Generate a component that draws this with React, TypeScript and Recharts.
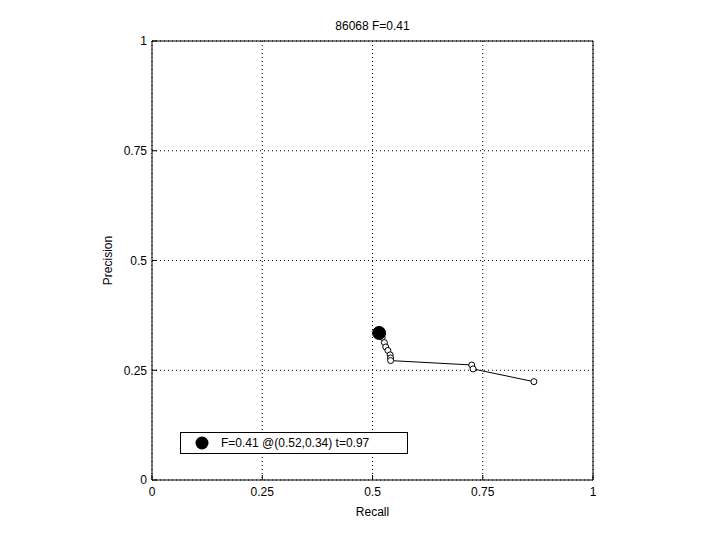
import React from 'react';
import {
  ScatterChart,
  Scatter,
  XAxis,
  YAxis,
  CartesianGrid,
  ReferenceLine,
} from 'recharts';

const recall = [0.515, 0.522, 0.527, 0.530, 0.535, 0.540, 0.541, 0.541, 0.725, 0.728, 0.866];
const precision = [0.335, 0.325, 0.313, 0.303, 0.295, 0.285, 0.278, 0.272, 0.262, 0.253, 0.224];
const bestRecall = [0.515];
const bestPrecision = [0.335];
const ticks = [0, 0.25, 0.5, 0.75, 1];
const tickLabels = ['0', '0.25', '0.5', '0.75', '1'];
const title = '86068 F=0.41';
const legendText = 'F=0.41 @(0.52,0.34) t=0.97';

const curve = recall.map((r, i) => ({ r, p: precision[i] }));
const best = bestRecall.map((r, i) => ({ r, p: bestPrecision[i] }));

const FONT = '"Liberation Sans", Arial, sans-serif';

const OpenDot = (props: any) => {
  const { cx, cy } = props;
  return <circle cx={cx} cy={cy} r={3} fill="white" stroke="black" strokeWidth={1} />;
};

const BigDot = (props: any) => {
  const { cx, cy } = props;
  return <circle cx={cx} cy={cy} r={6.5} fill="black" stroke="black" />;
};

const fmt = (v: number) => tickLabels[ticks.indexOf(v)] ?? String(v);

export default function App() {
  return (
    <div style={{ position: 'absolute', left: 0, top: 0, width: 720, height: 540, background: 'white' }}>
      <div
        style={{
          position: 'absolute',
          left: 152,
          width: 441,
          top: 19,
          textAlign: 'center',
          fontFamily: FONT,
          fontSize: 12,
        }}
      >
        {title}
      </div>
      <ScatterChart
        width={720}
        height={540}
        margin={{ top: 41, right: 127, left: 112, bottom: 30 }}
      >
        <CartesianGrid stroke="black" strokeDasharray="1 3" />
        <XAxis
          type="number"
          dataKey="r"
          domain={[0, 1]}
          ticks={ticks}
          tickFormatter={fmt}
          height={30}
          stroke="black"
          tickSize={-5}
          tickMargin={12}
          tick={{ fill: 'black', fontSize: 12, fontFamily: FONT }}
          label={{ value: 'Recall', position: 'insideBottom', offset: -6, fill: 'black', fontSize: 12, fontFamily: FONT }}
        />
        <YAxis
          type="number"
          dataKey="p"
          domain={[0, 1]}
          ticks={ticks}
          tickFormatter={fmt}
          width={40}
          stroke="black"
          tickSize={-5}
          tickMargin={10}
          tick={{ fill: 'black', fontSize: 12, fontFamily: FONT }}
          label={{ value: 'Precision', angle: -90, position: 'insideLeft', offset: -4, fill: 'black', fontSize: 12, fontFamily: FONT, style: { textAnchor: 'middle' } }}
        />
        <ReferenceLine y={1} stroke="black" strokeWidth={1} />
        <ReferenceLine x={1} stroke="black" strokeWidth={1} />
        <Scatter
          data={curve}
          line={{ stroke: 'black', strokeWidth: 1 }}
          shape={<OpenDot />}
          isAnimationActive={false}
        />
        <Scatter data={best} shape={<BigDot />} isAnimationActive={false} />
      </ScatterChart>
      <div
        style={{
          position: 'absolute',
          left: 180,
          top: 432,
          width: 226,
          height: 20,
          border: '1px solid black',
          background: 'white',
          display: 'flex',
          alignItems: 'center',
          fontFamily: FONT,
          fontSize: 12,
        }}
      >
        <svg width={40} height={20}>
          <circle cx={21} cy={10} r={6.5} fill="black" />
        </svg>
        <span>{legendText}</span>
      </div>
    </div>
  );
}
